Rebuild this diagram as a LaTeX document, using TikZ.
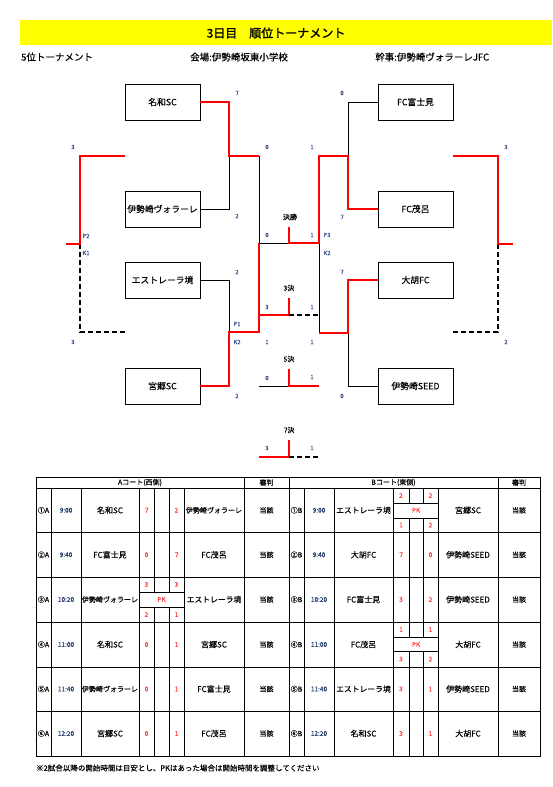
\documentclass[tikz,border=0pt]{standalone}
\usepackage{fontspec}
\setmainfont{Noto Sans CJK JP}[FakeBold=0.25]
\newfontfamily\heavy{Noto Sans CJK JP}[FakeBold=1.4]
\usepackage{xcolor}
\usepackage{tikz}
\usetikzlibrary{positioning}
\definecolor{scblue}{HTML}{3A4F8C}
\definecolor{tmblue}{HTML}{1F3A68}
\definecolor{scred}{HTML}{FF3B3B}
\definecolor{banner}{HTML}{FFFF00}
\newcommand{\volare}{{\fontsize{7}{8}\selectfont 伊勢崎ヴォラーレ}}
\newcommand{\estrela}{{\fontsize{7.8}{9}\selectfont エストレーラ境}}
\tikzset{
  team/.style={draw,line width=0.8pt,minimum width=75pt,minimum height=36pt,inner sep=0pt,font=\fontsize{8.8}{10}\selectfont},
  win/.style={red,line width=1.6pt},
  lose/.style={black,line width=0.7pt},
  nogame/.style={black,line width=1.3pt,dash pattern=on 5pt off 3pt},
  pts/.style={text=scblue,font=\fontsize{6}{7}\selectfont,inner sep=0pt},
  rnd/.style={font=\fontsize{7}{8}\selectfont,inner sep=0pt},
  cell/.style={font=\fontsize{8}{9}\selectfont,inner sep=0pt},
  tsmall/.style={font=\fontsize{7}{8}\selectfont,inner sep=0pt},
  ttime/.style={text=tmblue,font=\fontsize{6.5}{7}\selectfont,inner sep=0pt},
  tpts/.style={text=scred,font=\fontsize{6.5}{7}\selectfont,inner sep=0pt},
  tline/.style={line width=0.8pt}
}

\begin{document}
\begin{tikzpicture}[x=1pt,y=-1pt]
\useasboundingbox (0,0) rectangle (552,787);
\fill[banner] (20,20) rectangle (552,45);
\node[font=\heavy\fontsize{12}{14}\selectfont] (title) at (276,33) {3日目　順位トーナメント};
\node[anchor=west,font=\fontsize{9.5}{11}\selectfont,inner sep=0pt] (sub) at (21,57) {5位トーナメント};
\node[anchor=west,font=\fontsize{9.5}{11}\selectfont,inner sep=0pt] (venue) at (190,57) {会場:伊勢崎坂東小学校};
\node[anchor=west,font=\fontsize{9.5}{11}\selectfont,inner sep=0pt] (host) at (375,57) {幹事:伊勢崎ヴォラーレJFC};

\node[team] (nawa) at (162.5,102) {名和SC};
\node[team] (vol) at (162.5,209) {伊勢崎ヴォラーレ};
\node[team] (est) at (162.5,280) {エストレーラ境};
\node[team] (miya) at (162.5,386) {宮郷SC};
\node[team] (fuji) at (415.5,102) {FC富士見};
\node[team] (moro) at (415.5,209) {FC茂呂};
\node[team] (ogo) at (415.5,280) {大胡FC};
\node[team] (seed) at (415.5,386) {伊勢崎SEED};

\coordinate (la) at (229,156);
\coordinate (lb) at (229,332);
\coordinate (lf) at (259,243);
\coordinate (ra) at (348,156);
\coordinate (rb) at (348,333);
\coordinate (rf) at (319,243);
\coordinate (fin) at (289,243);
\coordinate (thr) at (289,315);
\coordinate (fif) at (289,386);
\coordinate (sev) at (289,457);
\coordinate (lot) at (125,156);
\coordinate (lob) at (125,332);
\coordinate (lo) at (80,244);
\coordinate (loe) at (66,244);
\coordinate (rot) at (453,156);
\coordinate (rob) at (453,332);
\coordinate (ro) at (498,244);
\coordinate (roe) at (513,244);

\draw[lose] (vol.east) -| (la);
\draw[lose] (est.east) -| (lb);
\draw[lose] (la -| lf) -- (lf) -- (fin);
\draw[win] (nawa.east) -| (la) -- (la -| lf);
\draw[win] (miya.east) -| (lb) -- (lb -| lf) -- (lf);
\draw[win] (thr -| lf) -- (thr) -- ++(0,-17);
\draw[nogame] (thr) -- (thr -| rf);

\draw[lose] (fuji.west) -| (ra);
\draw[lose] (seed.west) -| (rb);
\draw[lose] (rb -| rf) -- (rf);
\draw[win] (moro.west) -| (ra) -- (ra -| rf) -- (rf) -- (fin) -- ++(0,-16);
\draw[win] (ogo.west) -| (rb) -- (rb -| rf);

\draw[lose] (fif -| lf) -- (fif);
\draw[win] (fif -| rf) -- (fif) -- ++(0,-17);
\draw[win] (sev -| lf) -- (sev) -- ++(0,-17);
\draw[nogame] (sev) -- (sev -| rf);

\draw[nogame] (lo) |- (lob);
\draw[win] (lot) -| (lo) -- (loe);
\draw[nogame] (ro) |- (rob);
\draw[win] (rot) -| (ro) -- (roe);

\foreach \x/\y/\t [count=\i] in {73/147/3,73/342/3,86/236/P2,86/253/K1,
  237/93/7,237/216/2,237/272/2,237/396/2,237/324/P1,237/342/K2,
  267/147/0,267/235/0,267/307/3,267/342/1,267/378/0,267/448/3,
  312/147/1,312/235/1,312/307/1,312/342/1,312/377/1,312/448/1,
  327/235/P3,327/253/K2,342/93/0,342/217/7,342/272/7,342/396/0,
  506/147/3,506/342/2}
  \node[pts] (p\i) at (\x,\y) {\t};
\node[rnd] (r1) at (290,217) {決勝};
\node[rnd] (r3) at (289,288) {3決};
\node[rnd] (r5) at (289,359) {5決};
\node[rnd] (r7) at (289,430) {7決};

\draw[tline] (36,477) rectangle (540,756);
\foreach \y in {488,532.5,577,622,667,711} \draw[tline] (36,\y) -- (540,\y);
\foreach \x in {244,289,498} \draw[tline] (\x,477) -- (\x,756);
\foreach \x in {51,81,139,184,304,334,393,438} \draw[tline] (\x,488) -- (\x,756);
\foreach \x in {154,169} \draw[tline] (\x,488) -- (\x,592) (\x,607) -- (\x,756);
\foreach \x in {409,423} \draw[tline] (\x,488) -- (\x,503) (\x,518) -- (\x,637) (\x,651) -- (\x,756);
\foreach \y in {592,607} \draw[tline] (139,\y) -- (184,\y);
\foreach \y in {503,518,637,651} \draw[tline] (393,\y) -- (438,\y);

\node[tsmall] (ha) at (140,482.5) {Aコート(西側)};
\node[tsmall] (hra) at (266.5,482.5) {審判};
\node[tsmall] (hb) at (393.5,482.5) {Bコート(東側)};
\node[tsmall] (hrb) at (519,482.5) {審判};

\foreach \y/\no/\tm/\h/\a/\b/\w [count=\i] in {
  510.25/①A/9:00/名和SC/7/2/\volare,
  554.75/②A/9:40/FC富士見/0/7/FC茂呂,
  599.5/③A/10:20/\volare//\hspace{0pt}/\estrela,
  644.5/④A/11:00/名和SC/0/1/宮郷SC,
  689/⑤A/11:40/\volare/0/1/FC富士見,
  733.5/⑥A/12:20/宮郷SC/0/1/FC茂呂}{
  \node[tsmall] (an\i) at (43.5,\y) {\no};
  \node[ttime] (at\i) at (66,\y) {\tm};
  \node[cell] (ah\i) at (110,\y) {\h};
  \node[tpts] (as\i) at (146.5,\y) {\a};
  \node[tpts] (ab\i) at (176.5,\y) {\b};
  \node[cell] (aw\i) at (214,\y) {\w};
  \node[tsmall] (ar\i) at (266.5,\y) {当該};
}
\foreach \y/\no/\tm/\h/\a/\b/\w [count=\i] in {
  510.25/①B/9:00/\estrela//\hspace{0pt}/宮郷SC,
  554.75/②B/9:40/大胡FC/7/0/伊勢崎SEED,
  599.5/③B/10:20/FC富士見/3/2/伊勢崎SEED,
  644.5/④B/11:00/FC茂呂//\hspace{0pt}/大胡FC,
  689/⑤B/11:40/\estrela/3/1/伊勢崎SEED,
  733.5/⑥B/12:20/名和SC/3/1/大胡FC}{
  \node[tsmall] (bn\i) at (296.5,\y) {\no};
  \node[ttime] (bt\i) at (319,\y) {\tm};
  \node[cell] (bh\i) at (363.5,\y) {\h};
  \node[tpts] (bs\i) at (401,\y) {\a};
  \node[tpts] (bb\i) at (430.5,\y) {\b};
  \node[cell] (bw\i) at (468,\y) {\w};
  \node[tsmall] (br\i) at (519,\y) {当該};
}

\node[tpts] (pa1) at (146.5,584.5) {3};
\node[tpts] (pa2) at (176.5,584.5) {3};
\node[tpts] (pa3) at (161.5,599.5) {PK};
\node[tpts] (pa4) at (146.5,614.5) {2};
\node[tpts] (pa5) at (176.5,614.5) {1};
\node[tpts] (pb1) at (401,495.5) {2};
\node[tpts] (pb2) at (430.5,495.5) {2};
\node[tpts] (pb3) at (416,510.25) {PK};
\node[tpts] (pb4) at (401,525) {1};
\node[tpts] (pb5) at (430.5,525) {2};
\node[tpts] (pc1) at (401,629.5) {1};
\node[tpts] (pc2) at (430.5,629.5) {1};
\node[tpts] (pc3) at (416,644.5) {PK};
\node[tpts] (pc4) at (401,659) {3};
\node[tpts] (pc5) at (430.5,659) {2};

\node[anchor=west,font=\fontsize{7.5}{9}\selectfont,inner sep=0pt] (note) at (36,768) {※2試合以降の開始時間は目安とし、PKはあった場合は開始時間を調整してください};
\end{tikzpicture}
\end{document}
